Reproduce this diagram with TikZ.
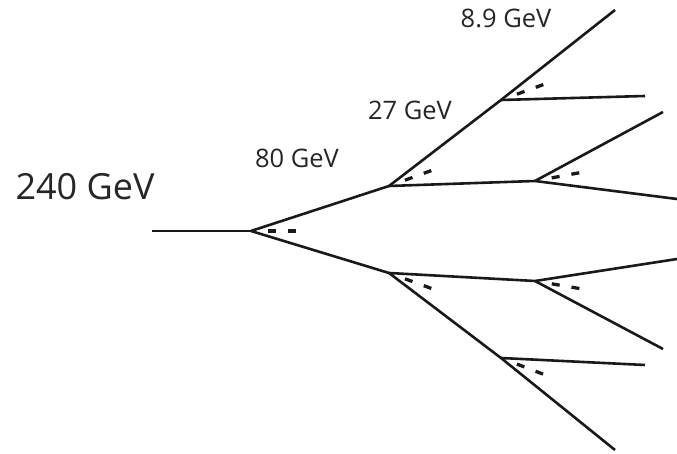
\documentclass[tikz,border=0pt]{standalone}
\usepackage{fontspec}
\setmainfont{Open Sans}
\usetikzlibrary{calc}
\begin{document}
\begin{tikzpicture}[x=1pt,y=1pt,
  branch/.style={line width=2.6pt, draw=black!90, line join=round},
  dashmark/.style={line width=3.3pt, draw=black!90},
  biglabel/.style={font=\fontsize{36}{40}\selectfont, text=black!85, anchor=base, inner sep=0pt},
  label/.style={font=\fontsize{25.5}{28}\selectfont, text=black!85, anchor=base, inner sep=0pt}]
\useasboundingbox (0,0) rectangle (677,454);
% vertices
\coordinate (S) at (152,223);
\coordinate (V0) at (251,223);
\coordinate (V1) at (389,268);
\coordinate (V2) at (389,181);
\coordinate (V3) at (501,354);
\coordinate (V4) at (535,273);
\coordinate (V5) at (535,173);
\coordinate (V6) at (501,96);
% free ends
\coordinate (Top) at (615,444);
\coordinate (V3r) at (645,358);
\coordinate (V4u) at (663,342);
\coordinate (V4d) at (677,255);
\coordinate (V5u) at (677,195);
\coordinate (V5d) at (663,105);
\coordinate (V6r) at (645,89);
\coordinate (Bot) at (615,4);
% branches
\draw[branch] (S) -- (V0);
\draw[branch] (V0) -- (V1) -- (V3) -- (Top);
\draw[branch] (V1) -- (V4) -- (V4d);
\draw[branch] (V4) -- (V4u);
\draw[branch] (V3) -- (V3r);
\draw[branch] (V0) -- (V2) -- (V6) -- (Bot);
\draw[branch] (V2) -- (V5) -- (V5u);
\draw[branch] (V5) -- (V5d);
\draw[branch] (V6) -- (V6r);
% dash marks along bisectors
\foreach \v/\a in {V0/0, V1/20, V3/20, V4/10.5, V2/-20, V5/-9.6, V6/-21}{
  \draw[dashmark] ($(\v)+(\a:17)$) -- ($(\v)+(\a:25)$);
  \draw[dashmark] ($(\v)+(\a:37)$) -- ($(\v)+(\a:45)$);
}
% labels
\node[biglabel] (E240) at (85,254) {240 GeV};
\node[label] (E80) at (297,286) {80 GeV};
\node[label] (E27) at (410,334) {27 GeV};
\node[label] (E89) at (506,426) {8.9 GeV};
\end{tikzpicture}
\end{document}
